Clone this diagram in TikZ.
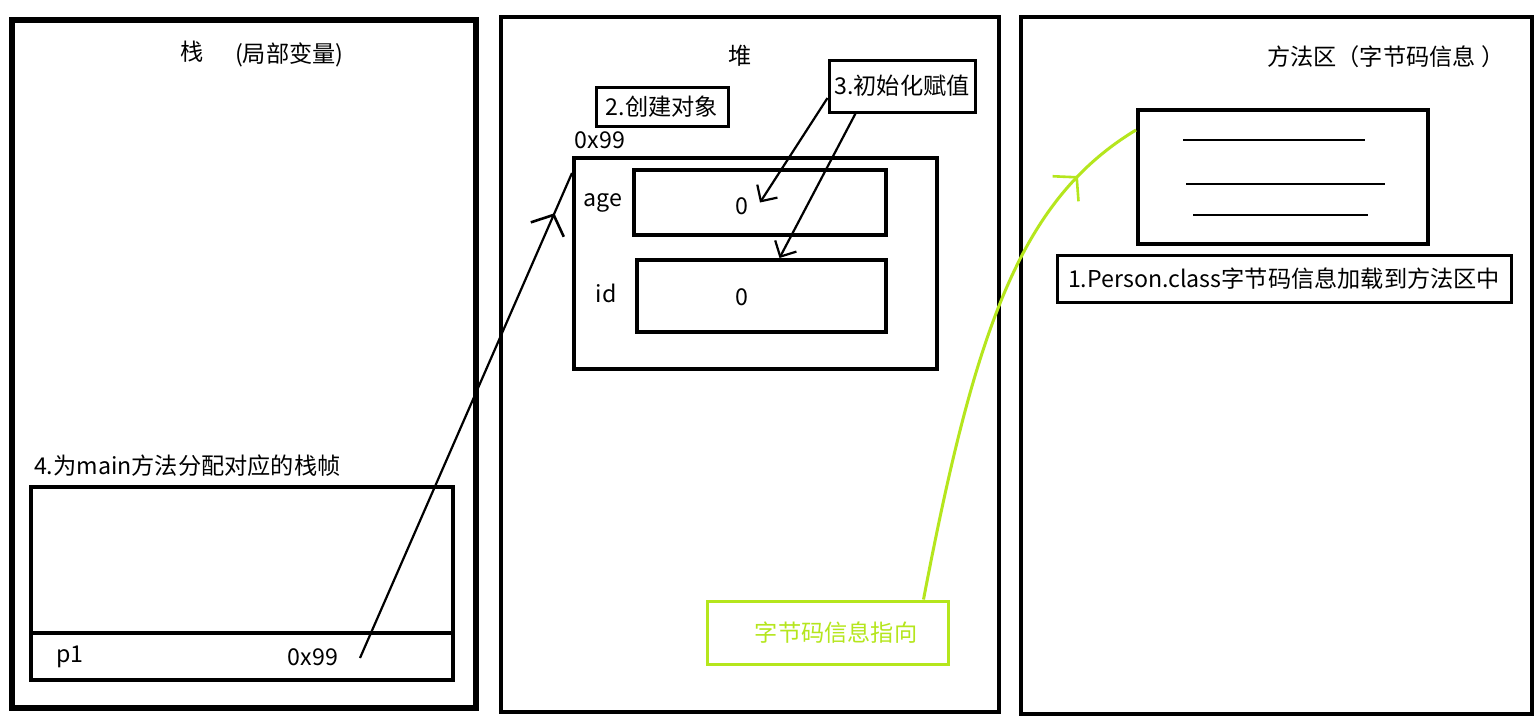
\documentclass[tikz,border=0pt]{standalone}
\usepackage{fontspec}
\setmainfont{Noto Sans CJK SC}
\usetikzlibrary{fit,arrows.meta,decorations.markings}
\definecolor{lime}{RGB}{181,230,29}
\tikzset{
    panel/.style={draw, line width=2.1pt},
    cell/.style={draw, line width=2pt, inner sep=0pt},
    tag/.style={draw, line width=1.5pt, inner sep=0pt},
    ptr/.style={line width=1.1pt, -{Straight Barb[length=6pt,width=12pt]}},
    midptr/.style={line width=1.1pt, postaction={decorate},
        decoration={markings, mark=at position #1 with {\arrow[line width=1.3pt]{Straight Barb[length=8pt,width=18pt]}}}}
}
\begin{document}
\begin{tikzpicture}[x=0.5pt,y=-0.5pt,font=\fontsize{11.6}{13}\selectfont]
        \useasboundingbox (0,0) rectangle (1539,724);
        \fill[white] (0,0) rectangle (1539,724);
        \draw[panel, line width=2.6pt] (12,20) rectangle (476,708);
        \draw[panel] (501,17) rectangle (999,712);
        \draw[panel] (1021,17) rectangle (1532,714);
        \node (stack) at (192,52) {栈};
        \node[anchor=west] (stacknote) at (228,55) {(局部变量)};
        \node (heap) at (740,56) {堆};
        \node[anchor=west] (method) at (1260,57) {方法区（字节码信息 ）};
        \node[anchor=west] (frametitle) at (27,466) {4.为main方法分配对应的栈帧};
        \node[cell, line width=1.6pt, fit={(31,487) (453,680)}] (frame) {};
        \draw[line width=1.6pt] (31,633) -- (453,633);
        \node (p1) at (70,657) {p1};
        \node (p1val) at (313,657) {0x99};
        \coordinate (p1ref) at (360,658);
        \node[tag, fit={(596,87) (728,126)}] (create) {};
        \node at (create) {2.创建对象};
        \node[tag, fit={(829,60) (975,112)}] (init) {};
        \node at (init) {3.初始化赋值};
        \node (addr) at (600,140) {0x99};
        \node[cell, fit={(574,158) (937,369)}] (obj) {};
        \node[cell, fit={(634,170) (886,235)}] (agebox) {};
        \node[cell, fit={(637,260) (886,332)}] (idbox) {};
        \node (age) at (603,203) {age};
        \node (id) at (606,293) {id};
        \node (ageval) at (742,206) {0};
        \node (idval) at (742,297) {0};
        \draw[ptr] ([yshift=-6pt]init.west) -- (agebox.center);
        \draw[ptr] ([xshift=14pt]init.south west) -- ([xshift=9pt]idbox.north);
        \draw[midptr=0.917] (p1ref) -- ([yshift=-8.5pt]obj.north west);
        \node[cell, fit={(1138,110) (1428,244)}] (cls) {};
        \foreach \a/\b/\y in {1183/1365/140,1186/1385/184,1193/1368/215}
            {\draw[line width=1pt] (\a,\y) -- (\b,\y);}
        \node[tag, fit={(1057,255) (1511,302)}] (load) {};
        \node at (load) {1.Person.class字节码信息加载到方法区中};
        \node[tag, draw=lime, fit={(707,601) (948,664)}] (hint) {};
        \node[text=lime] (hinttext) at (836,633) {字节码信息指向};
        \draw[midptr=0.86, draw=lime, line width=1.5pt] ([xshift=-13pt]hint.north east) .. controls (975,330) and (1020,200) .. ([yshift=23.5pt]cls.west);
    \end{tikzpicture}
\end{document}
